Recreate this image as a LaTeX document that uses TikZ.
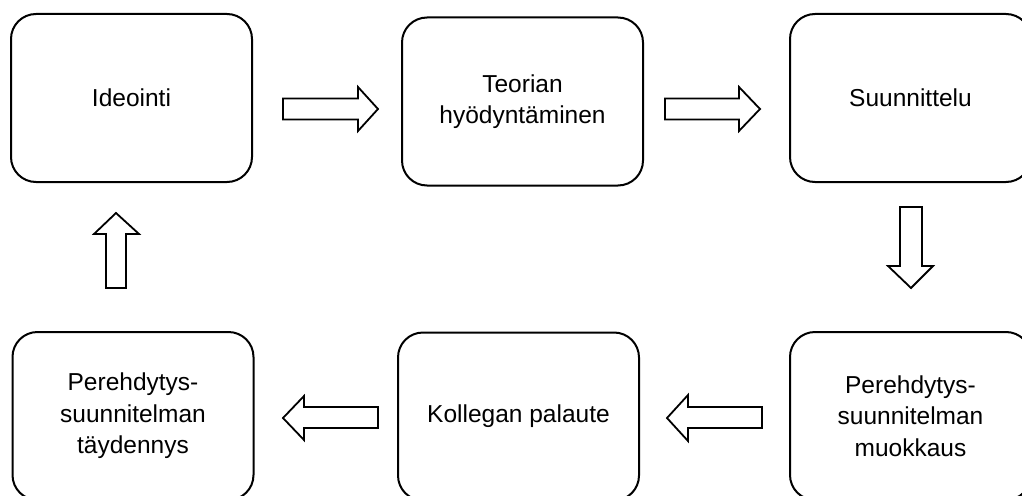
\documentclass[tikz,border=0pt]{standalone}
\usepackage{fontspec}
\setmainfont{Liberation Sans}
\begin{document}
\begin{tikzpicture}[x=1pt,y=1pt,
  box/.style={draw, line width=2pt, rounded corners=25pt, minimum width=241pt, minimum height=168pt, align=center, font=\fontsize{24.5}{31.5}\selectfont, inner sep=0pt},
  blockarrow/.style={draw, line width=1.8pt, fill=white, line join=miter}]
\useasboundingbox (0,0) rectangle (1022,-495);
\node[box] (ide) at (131.5,-98) {Ideointi};
\node[box] (teo) at (522.5,-101.5) {Teorian\\hyödyntäminen};
\node[box] (suu) at (910.5,-98) {Suunnittelu};
\node[box] (muo) at (910.5,-416) {Perehdytys-\\suunnitelman\\muokkaus};
\node[box] (kol) at (518.5,-416.5) {Kollegan palaute};
\node[box] (tay) at (133,-416) {Perehdytys-\\suunnitelman\\täydennys};
% right arrows
\draw[blockarrow] (283,-98.5) -- (358,-98.5) -- (358,-87) -- (378,-109) -- (358,-131) -- (358,-119.5) -- (283,-119.5) -- cycle;
\draw[blockarrow] (665,-98.5) -- (739,-98.5) -- (739,-87) -- (760,-109) -- (739,-131) -- (739,-119.5) -- (665,-119.5) -- cycle;
% down arrow
\draw[blockarrow] (900,-207) -- (922,-207) -- (922,-266) -- (933,-266) -- (911,-288) -- (888,-266) -- (900,-266) -- cycle;
% left arrows
\draw[blockarrow] (378,-407) -- (304,-407) -- (304,-396) -- (283,-418) -- (304,-440) -- (304,-428) -- (378,-428) -- cycle;
\draw[blockarrow] (762,-407) -- (688,-407) -- (688,-395) -- (667,-418) -- (688,-441) -- (688,-428) -- (762,-428) -- cycle;
% up arrow
\draw[blockarrow] (106,-288) -- (126,-288) -- (126,-234) -- (139,-234) -- (116,-213) -- (94,-234) -- (106,-234) -- cycle;
\end{tikzpicture}
\end{document}
